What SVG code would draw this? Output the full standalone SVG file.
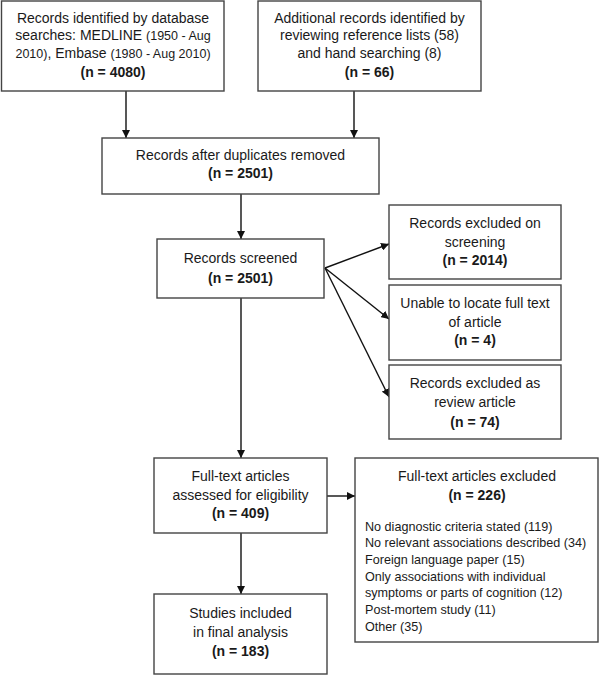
<svg xmlns="http://www.w3.org/2000/svg" width="600" height="675" viewBox="0 0 600 675">
<defs>
<style>
.box{fill:#fff;stroke:#444;stroke-width:1.4}
.t{font-family:"Liberation Sans",Arial,sans-serif;font-size:14px;fill:#1a1a1a;text-anchor:middle}
.b{font-weight:bold}
.s{font-size:12.5px}
.l{font-family:"Liberation Sans",Arial,sans-serif;font-size:12.6px;fill:#1a1a1a}
.c{stroke:#111;stroke-width:1.4;fill:none;marker-end:url(#ah)}
</style>
<marker id="ah" viewBox="0 0 10 10" refX="10" refY="5" markerWidth="8" markerHeight="8" markerUnits="userSpaceOnUse" orient="auto">
<path d="M0,0L10,5L0,10z" fill="#111"/>
</marker>
</defs>
<rect width="600" height="675" fill="#fff"/>
<g id="connectors">
<line class="c" x1="126" y1="91" x2="126" y2="138"/>
<line class="c" x1="354" y1="91" x2="354" y2="138"/>
<line class="c" x1="241" y1="194" x2="241" y2="239"/>
<line class="c" x1="325" y1="268" x2="389" y2="244"/>
<line class="c" x1="325" y1="268" x2="389" y2="319"/>
<line class="c" x1="325" y1="268" x2="389" y2="397"/>
<line class="c" x1="241" y1="298" x2="241" y2="458"/>
<line class="c" x1="327" y1="496" x2="355" y2="496"/>
<line class="c" x1="241" y1="533" x2="241" y2="594"/>
</g>
<g id="n1">
<rect class="box" x="1.5" y="1" width="222.5" height="90"/>
<text class="t" x="113" y="23">Records identified by database</text>
<text class="t" x="113" y="40">searches: MEDLINE <tspan class="s">(1950 - Aug</tspan></text>
<text class="t" x="113" y="58"><tspan class="s">2010)</tspan>, Embase <tspan class="s">(1980 - Aug 2010)</tspan></text>
<text class="t b" x="113" y="77">(n = 4080)</text>
</g>
<g id="n2">
<rect class="box" x="258" y="1" width="223" height="90"/>
<text class="t" x="369.5" y="23">Additional records identified by</text>
<text class="t" x="369.5" y="40">reviewing reference lists (58)</text>
<text class="t" x="369.5" y="58">and hand searching (8)</text>
<text class="t b" x="369.5" y="77">(n = 66)</text>
</g>
<g id="n3">
<rect class="box" x="102" y="138" width="277" height="56"/>
<text class="t" x="240.5" y="160">Records after duplicates removed</text>
<text class="t b" x="240.5" y="178">(n = 2501)</text>
</g>
<g id="n4">
<rect class="box" x="157" y="239" width="167" height="59"/>
<text class="t" x="240.5" y="263">Records screened</text>
<text class="t b" x="240.5" y="283">(n = 2501)</text>
</g>
<g id="n5">
<rect class="box" x="389" y="205" width="172" height="74"/>
<text class="t" x="475" y="228">Records excluded on</text>
<text class="t" x="475" y="247">screening</text>
<text class="t b" x="475" y="265">(n = 2014)</text>
</g>
<g id="n6">
<rect class="box" x="389" y="285" width="172" height="75"/>
<text class="t" x="475" y="308">Unable to locate full text</text>
<text class="t" x="475" y="327">of article</text>
<text class="t b" x="475" y="345">(n = 4)</text>
</g>
<g id="n7">
<rect class="box" x="389" y="365" width="172" height="74"/>
<text class="t" x="475" y="388">Records excluded as</text>
<text class="t" x="475" y="407">review article</text>
<text class="t b" x="475" y="427">(n = 74)</text>
</g>
<g id="n8">
<rect class="box" x="154" y="458" width="173" height="75"/>
<text class="t" x="240.5" y="481">Full-text articles</text>
<text class="t" x="240.5" y="500">assessed for eligibility</text>
<text class="t b" x="240.5" y="518">(n = 409)</text>
</g>
<g id="n9">
<rect class="box" x="154" y="594" width="173" height="80"/>
<text class="t" x="240.5" y="618">Studies included</text>
<text class="t" x="240.5" y="637">in final analysis</text>
<text class="t b" x="240.5" y="656">(n = 183)</text>
</g>
<g id="n10">
<rect class="box" x="355" y="458" width="243" height="184"/>
<text class="t" x="477" y="481">Full-text articles excluded</text>
<text class="t b" x="477" y="500">(n = 226)</text>
<text class="l" x="365" y="531">No diagnostic criteria stated (119)</text>
<text class="l" x="365" y="547">No relevant associations described (34)</text>
<text class="l" x="365" y="564">Foreign language paper (15)</text>
<text class="l" x="365" y="581">Only associations with individual</text>
<text class="l" x="365" y="597">symptoms or parts of cognition (12)</text>
<text class="l" x="365" y="614">Post-mortem study (11)</text>
<text class="l" x="365" y="631">Other (35)</text>
</g>
</svg>
